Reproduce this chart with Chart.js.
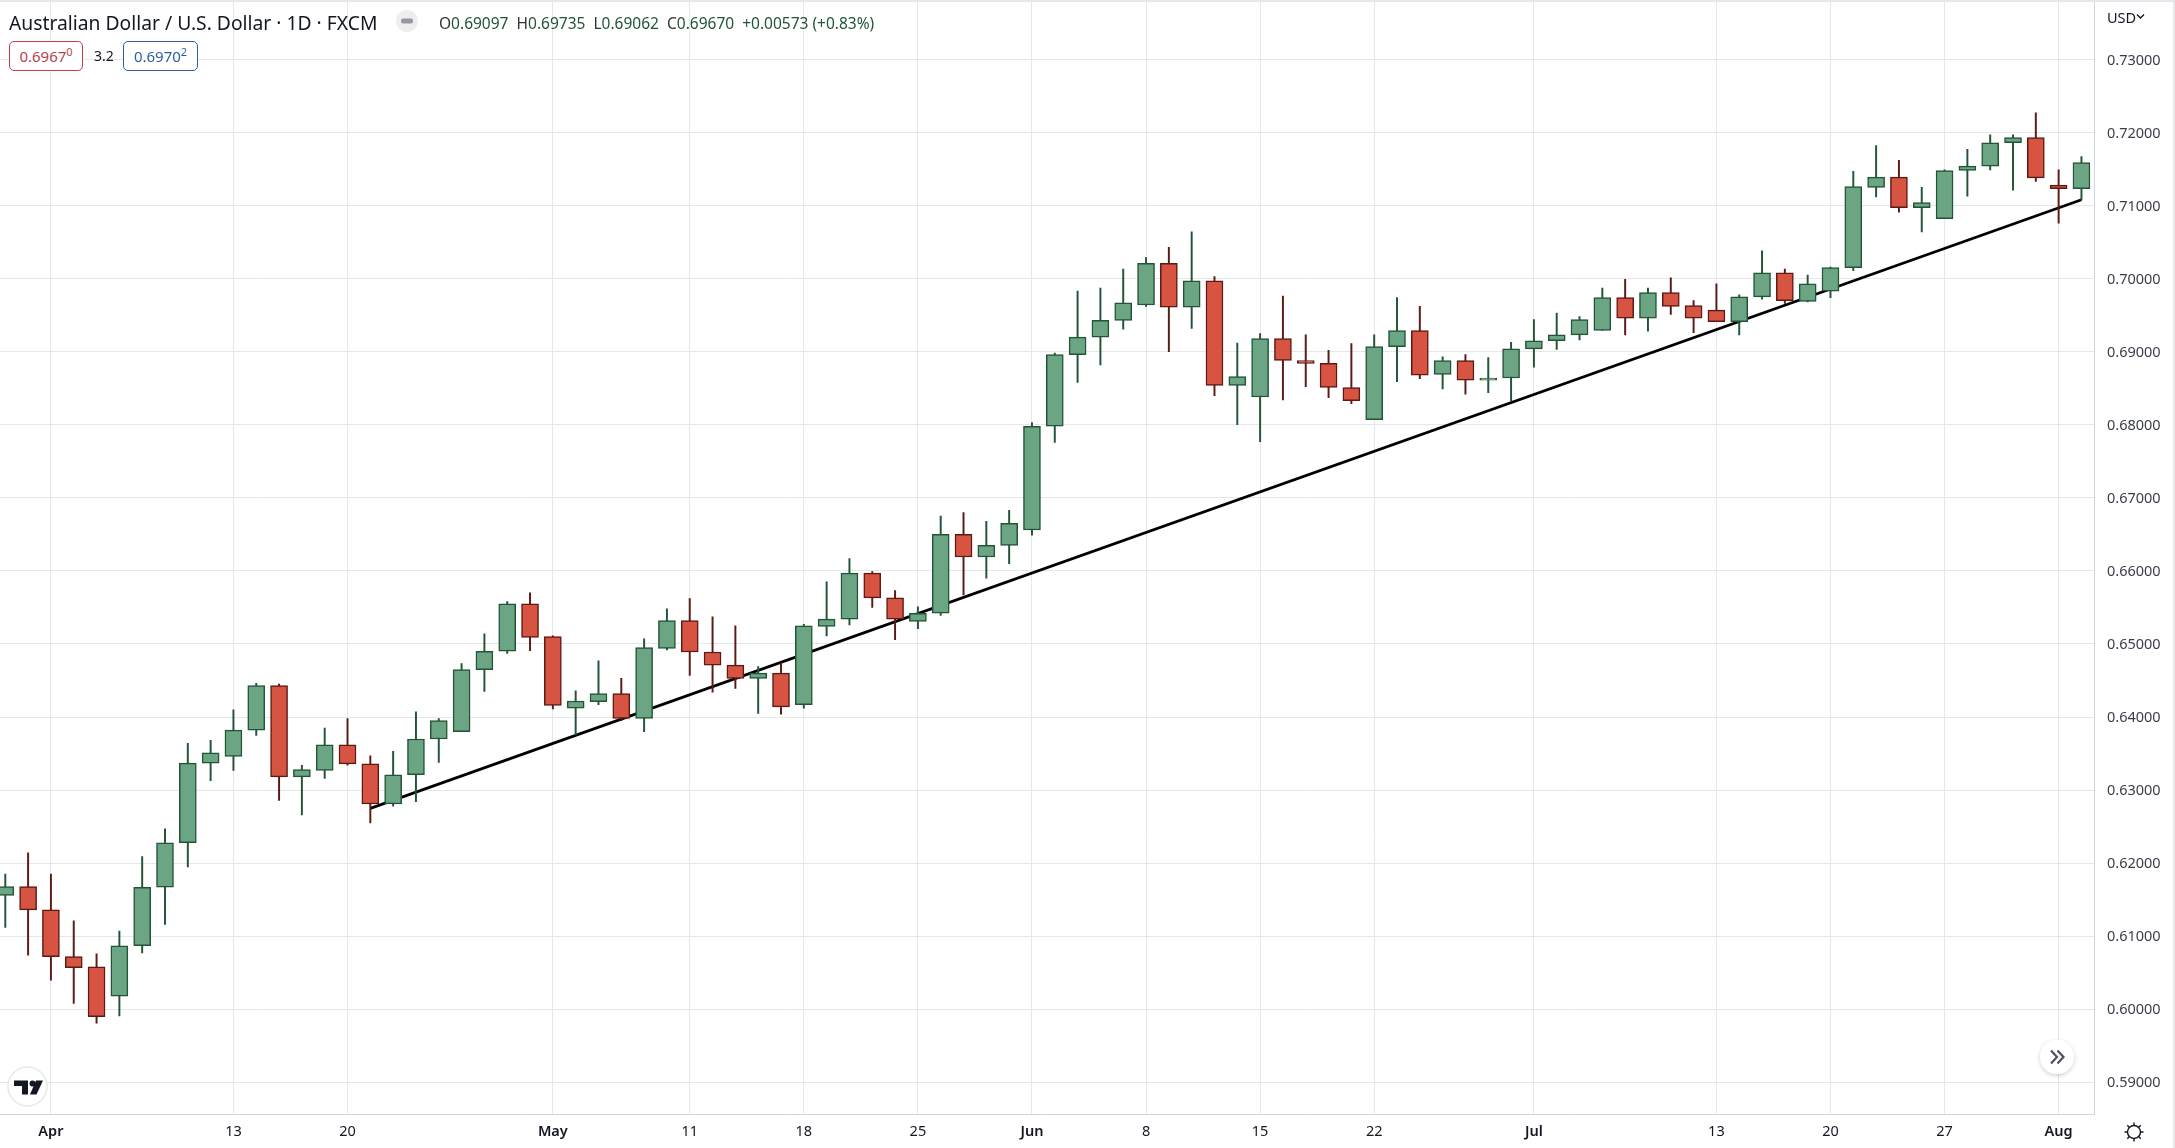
<!DOCTYPE html>
<html>
<head>
<meta charset="utf-8">
<title>AUD/USD</title>
<script src="https://cdn.jsdelivr.net/npm/chart.js@4/dist/chart.umd.min.js"></script>
<style>
  html, body { margin: 0; padding: 0; background: #fff; overflow: hidden; }
  #wrap { position: relative; width: 2175px; height: 1148px; font-family: "Noto Sans", sans-serif; color: #131722; }
  #wrap canvas { position: absolute; left: 0; top: 0; }
  .lbl { position: absolute; white-space: nowrap; line-height: 1; }
  .box { position: absolute; top: 41px; height: 30px; box-sizing: border-box; border: 1px solid; border-radius: 5px; text-align: center; font-size: 15px; line-height: 28px; background: #fff; }
  .box sup { font-size: 11px; line-height: 0; }
  #frame { position: absolute; inset: 0; border-top: 2px solid #e6e8ee; border-right: 2px solid #e6e8ee; pointer-events: none; }
</style>
</head>
<body>
<div id="wrap">
  <canvas id="candles" width="2175" height="1148"></canvas>
  <div id="frame"></div>

  <div class="lbl" style="left:9px;top:13px;font-size:19.3px;">Australian Dollar / U.S. Dollar · 1D · FXCM</div>
  <svg style="position:absolute;left:396px;top:10px" width="22" height="22">
    <circle cx="11" cy="11" r="11" fill="#eeeeee"/><rect x="5" y="8.5" width="12" height="5" rx="2" fill="#9598a1"/>
  </svg>
  <div class="lbl" style="left:439px;top:16px;font-size:15.5px;color:#225437;">
    <span style="color:#333">O</span>0.69097 <span style="color:#333">&nbsp;H</span>0.69735 <span style="color:#333">&nbsp;L</span>0.69062 <span style="color:#333">&nbsp;C</span>0.69670 &nbsp;+0.00573 (+0.83%)
  </div>
  <div class="box" style="left:9px;width:74px;border-color:#b8434b;color:#b8434b;">0.6967<sup>0</sup></div>
  <div class="lbl" style="left:94px;top:49px;font-size:14px;">3.2</div>
  <div class="box" style="left:123px;width:75px;border-color:#2f5f9e;color:#2f5f9e;">0.6970<sup>2</sup></div>

  <div class="lbl" style="left:2107px;top:10px;font-size:14.5px;">USD</div>
  <svg style="position:absolute;left:2136px;top:13px" width="9" height="7">
    <path d="M1 1.5 L4.5 5 L8 1.5" fill="none" stroke="#131722" stroke-width="1.4"/>
  </svg>

  <!-- logo -->
  <svg style="position:absolute;left:7px;top:1066px" width="41" height="41">
    <circle cx="20.5" cy="20.5" r="19.5" fill="#fff" stroke="#e8e8e8" stroke-width="1.5"/>
    <path d="M7 14.5 H21 V28.5 H15 V20 H7 Z" fill="#131722"/>
    <circle cx="25.5" cy="17.5" r="3" fill="#131722"/>
    <path d="M28 28.5 L34 14.5 H41 L34.5 28.5 Z" transform="translate(-5 0)" fill="#131722"/>
  </svg>

  <!-- scroll to latest -->
  <svg style="position:absolute;left:2035px;top:1035px" width="44" height="44">
    <defs><filter id="sh"><feDropShadow dx="0" dy="1.5" stdDeviation="2" flood-color="#000" flood-opacity="0.2"/></filter></defs>
    <circle cx="22" cy="22" r="17" fill="#fff" filter="url(#sh)"/>
    <path d="M16 15.5 L22 22 L16 28.5 M22.5 15.5 L28.5 22 L22.5 28.5" fill="none" stroke="#50535e" stroke-width="2.2"/>
  </svg>

  <!-- settings gear -->
  <svg style="position:absolute;left:2122px;top:1120px" width="24" height="24" fill="none" stroke="#131722" stroke-width="1.4">
    <circle cx="12" cy="12" r="6.5"/>
    <path d="M12 2.5V5.5M12 18.5V21.5M2.5 12H5.5M18.5 12H21.5M5.3 5.3L7.4 7.4M16.6 16.6L18.7 18.7M5.3 18.7L7.4 16.6M16.6 7.4L18.7 5.3"/>
  </svg>
</div>

<script>
// Daily candles
const opens = [
  0.6156, 0.6168, 0.6136, 0.6072, 0.6058, 0.6018, 0.6087, 0.6167, 0.6228, 0.6337, 0.6346, 0.6382,
  0.6443, 0.6318, 0.6327, 0.6362, 0.6336, 0.6281, 0.6321, 0.6370, 0.6380, 0.6465, 0.6490, 0.6555,
  0.6510, 0.6412, 0.6421, 0.6432, 0.6398, 0.6494, 0.6532, 0.6489, 0.6471, 0.6453, 0.6460, 0.6417,
  0.6524, 0.6534, 0.6597, 0.6563, 0.6531, 0.6542, 0.6650, 0.6619, 0.6635, 0.6656, 0.6798, 0.6896,
  0.6920, 0.6943, 0.6964, 0.7021, 0.6961, 0.6997, 0.6854, 0.6838, 0.6918, 0.6888, 0.6884, 0.6851,
  0.6807, 0.6907, 0.6929, 0.6869, 0.6888, 0.6861, 0.6864, 0.6904, 0.6915, 0.6923, 0.6929, 0.6974,
  0.6946, 0.6981, 0.6963, 0.6957, 0.6941, 0.6975, 0.7008, 0.6969, 0.6983, 0.7015, 0.7125, 0.7139,
  0.7097, 0.7082, 0.7148, 0.7154, 0.7186, 0.7193, 0.7128, 0.7123
];
const highs = [
  0.6185, 0.6214, 0.6185, 0.6121, 0.6076, 0.6107, 0.6209, 0.6247, 0.6364, 0.6368, 0.6410, 0.6446,
  0.6445, 0.6334, 0.6385, 0.6398, 0.6347, 0.6353, 0.6407, 0.6398, 0.6473, 0.6514, 0.6558, 0.6570,
  0.6511, 0.6436, 0.6477, 0.6453, 0.6507, 0.6548, 0.6562, 0.6537, 0.6525, 0.6469, 0.6474, 0.6527,
  0.6585, 0.6617, 0.6599, 0.6573, 0.6551, 0.6675, 0.6680, 0.6668, 0.6683, 0.6803, 0.6898, 0.6983,
  0.6987, 0.7013, 0.7029, 0.7043, 0.7064, 0.7003, 0.6912, 0.6925, 0.6976, 0.6923, 0.6902, 0.6911,
  0.6923, 0.6974, 0.6962, 0.6893, 0.6896, 0.6892, 0.6913, 0.6944, 0.6953, 0.6948, 0.6987, 0.6999,
  0.6987, 0.7001, 0.6970, 0.6993, 0.6978, 0.7038, 0.7013, 0.7005, 0.7016, 0.7147, 0.7182, 0.7162,
  0.7125, 0.7149, 0.7177, 0.7197, 0.7197, 0.7227, 0.7149, 0.7167
];
const lows = [
  0.6112, 0.6074, 0.6040, 0.6008, 0.5981, 0.5991, 0.6077, 0.6116, 0.6195, 0.6313, 0.6327, 0.6375,
  0.6286, 0.6266, 0.6316, 0.6334, 0.6255, 0.6278, 0.6284, 0.6338, 0.6380, 0.6435, 0.6487, 0.6491,
  0.6411, 0.6376, 0.6417, 0.6395, 0.6380, 0.6492, 0.6457, 0.6434, 0.6439, 0.6405, 0.6404, 0.6412,
  0.6511, 0.6526, 0.6550, 0.6506, 0.6521, 0.6539, 0.6567, 0.6590, 0.6610, 0.6649, 0.6776, 0.6858,
  0.6882, 0.6931, 0.6962, 0.6900, 0.6932, 0.6840, 0.6800, 0.6777, 0.6834, 0.6852, 0.6837, 0.6829,
  0.6807, 0.6859, 0.6863, 0.6849, 0.6842, 0.6844, 0.6833, 0.6879, 0.6903, 0.6916, 0.6929, 0.6923,
  0.6928, 0.6951, 0.6926, 0.6941, 0.6923, 0.6972, 0.6966, 0.6968, 0.6974, 0.7011, 0.7112, 0.7091,
  0.7064, 0.7082, 0.7113, 0.7149, 0.7121, 0.7133, 0.7076, 0.7108
];
const closes = [
  0.6168, 0.6136, 0.6072, 0.6057, 0.5990, 0.6087, 0.6167, 0.6228, 0.6337, 0.6351, 0.6382, 0.6443,
  0.6318, 0.6328, 0.6362, 0.6336, 0.6281, 0.6321, 0.6370, 0.6395, 0.6465, 0.6490, 0.6555, 0.6509,
  0.6416, 0.6422, 0.6432, 0.6398, 0.6495, 0.6532, 0.6489, 0.6471, 0.6453, 0.6460, 0.6414, 0.6525,
  0.6534, 0.6597, 0.6563, 0.6534, 0.6542, 0.6650, 0.6619, 0.6635, 0.6665, 0.6798, 0.6896, 0.6920,
  0.6943, 0.6967, 0.7021, 0.6961, 0.6997, 0.6854, 0.6866, 0.6918, 0.6888, 0.6884, 0.6851, 0.6833,
  0.6907, 0.6929, 0.6868, 0.6888, 0.6861, 0.6864, 0.6904, 0.6915, 0.6923, 0.6944, 0.6974, 0.6946,
  0.6981, 0.6962, 0.6946, 0.6941, 0.6975, 0.7008, 0.6970, 0.6993, 0.7015, 0.7126, 0.7139, 0.7097,
  0.7104, 0.7148, 0.7154, 0.7186, 0.7193, 0.7138, 0.7123, 0.7159
];

// Bar positions of the date labels, and the labels
const dateTicks = [2, 10, 15, 24, 30, 35, 40, 45, 50, 55, 60, 67, 75, 80, 85, 90];
const dateLabels = ['Apr', '13', '20', 'May', '11', '18', '25', 'Jun', '8', '15', '22', 'Jul', '13', '20', '27', 'Aug'];
const monthLabels = ['Apr', 'May', 'Jun', 'Jul', 'Aug'];
const priceTicks = [0.59, 0.60, 0.61, 0.62, 0.63, 0.64, 0.65, 0.66, 0.67, 0.68, 0.69, 0.70, 0.71, 0.72, 0.73];

// Hand drawn trend line
const trendBars = [16, 91];
const trendPrices = [0.6275, 0.7108];

const GREEN = '#6ba583', GREEN_EDGE = '#225437';
const RED = '#d75442', RED_EDGE = '#5b1a13';
const GRID = '#e6e7e9', AXIS = '#d1d4da';
const FONT = '"Noto Sans", sans-serif';

const isUp = i => closes[i] >= opens[i];

new Chart(document.getElementById('candles'), {
  type: 'bar',
  data: {
    datasets: [
      {
        label: 'Body',
        order: 1,
        grouped: false,
        barThickness: 17,
        borderWidth: 1.5,
        borderSkipped: false,
        data: opens.map((o, i) => ({ x: i, y: [o, closes[i]] })),
        backgroundColor: opens.map((o, i) => isUp(i) ? GREEN : RED),
        borderColor: opens.map((o, i) => isUp(i) ? GREEN_EDGE : RED_EDGE)
      },
      {
        label: 'Wick',
        order: 2,
        grouped: false,
        barThickness: 1.3,
        borderWidth: 0,
        data: highs.map((h, i) => ({ x: i, y: [lows[i], h] })),
        backgroundColor: opens.map((o, i) => isUp(i) ? GREEN_EDGE : RED_EDGE)
      },
      {
        type: 'line',
        label: 'Trend',
        order: 3,
        data: trendBars.map((b, i) => ({ x: b, y: trendPrices[i] })),
        borderColor: '#000',
        borderWidth: 2.8,
        pointRadius: 0,
        tension: 0
      }
    ]
  },
  options: {
    responsive: false,
    animation: false,
    layout: { padding: 0 },
    plugins: { legend: { display: false }, tooltip: { enabled: false } },
    scales: {
      x: {
        type: 'linear',
        offset: false,
        min: -0.232,
        max: 91.55,
        grid: { color: GRID, offset: false, drawTicks: false },
        border: { color: AXIS },
        afterBuildTicks: axis => { axis.ticks = dateTicks.map(v => ({ value: v })); },
        afterFit: axis => {
          axis.height = 33.5;
          axis.paddingLeft = 0;
          axis.paddingRight = 0;
        },
        ticks: {
          autoSkip: false,
          maxRotation: 0,
          padding: 9,
          color: '#131722',
          font: ctx => ({ family: FONT, size: 14.5, weight: monthLabels.includes(dateLabels[ctx.index]) ? 600 : 400 }),
          callback: (v, i) => dateLabels[i]
        }
      },
      y: {
        position: 'right',
        min: 0.5856,
        max: 0.73814,
        grid: { color: GRID, drawTicks: false },
        border: { color: AXIS },
        afterBuildTicks: axis => { axis.ticks = priceTicks.map(v => ({ value: v })); },
        afterFit: axis => {
          axis.width = 81;
          axis.paddingTop = 0;
          axis.paddingBottom = 0;
        },
        ticks: {
          padding: 13,
          labelOffset: 1,
          color: '#3a3e49',
          font: { family: FONT, size: 14.5 },
          callback: v => v.toFixed(5)
        }
      }
    }
  }
});
</script>
</body>
</html>
